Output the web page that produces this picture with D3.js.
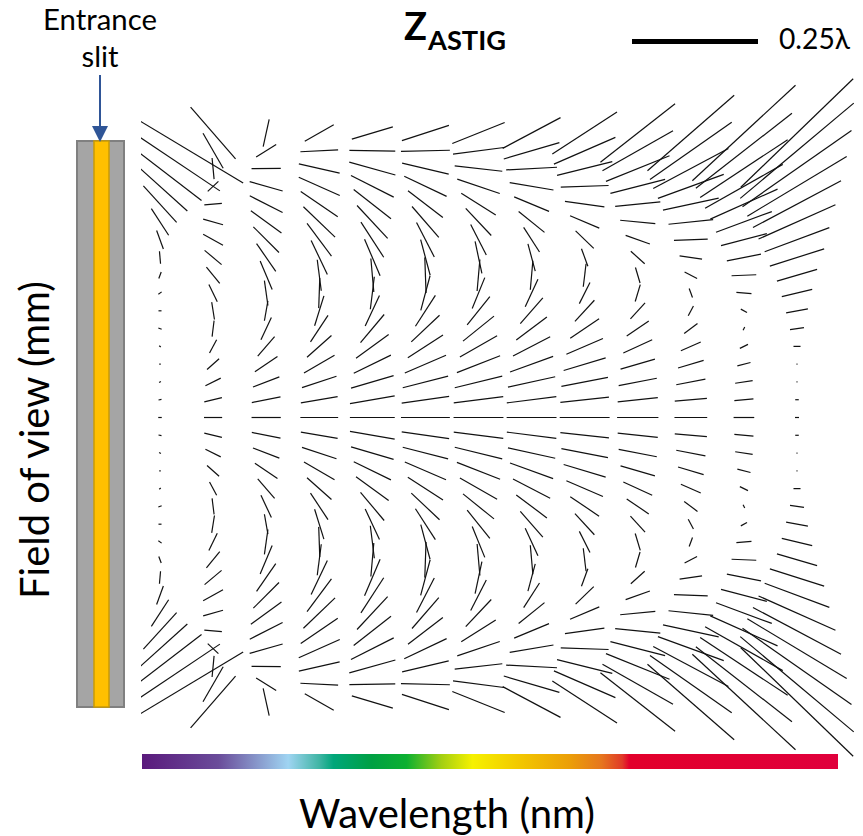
<!DOCTYPE html>
<html>
<head>
<meta charset="utf-8">
<script src="https://cdn.jsdelivr.net/npm/d3@7"></script>
<style>
  body { margin: 0; background: #fff; }
  svg { display: block; }
</style>
</head>
<body>
<div id="chart"></div>
<script>
'use strict';

// wavelength channels (columns, blue -> red)
var channels = d3.range(13);
// field positions of the stored rows: slit top (16) down to slit centre (0)
var fieldRows = d3.range(16, -1, -1);

// astigmatism magnitude in hundredths of a wave, one array per channel, top row first
var magnitude = [
  [38.5, 28.6, 20.8, 14.6, 9.8, 6.3, 3.9, 2.5, 1.4, 0.8, 0.6, 0.7, 0.4, 0.3, 0.4, 0.6, 0.7],
  [13.6, 8.0, 4.2, 2.9, 3.5, 4.1, 4.5, 4.4, 4.2, 3.8, 3.5, 3.2, 3.0, 3.2, 3.4, 3.6, 3.6],
  [5.5, 4.7, 5.8, 6.8, 7.3, 7.5, 7.2, 6.7, 6.1, 5.0, 4.0, 4.9, 5.1, 5.4, 5.6, 5.8, 5.8],
  [6.6, 7.5, 8.3, 8.9, 8.9, 8.7, 8.1, 7.5, 6.2, 6.0, 6.2, 6.3, 6.5, 7.0, 7.2, 7.4, 7.5],
  [8.5, 9.1, 9.5, 9.5, 9.4, 8.9, 8.3, 7.9, 6.7, 6.5, 6.7, 7.3, 8.0, 8.2, 8.8, 9.0, 8.9],
  [9.8, 9.7, 9.5, 9.3, 8.7, 8.1, 7.7, 7.3, 7.1, 7.1, 7.3, 7.7, 8.3, 8.9, 9.3, 9.5, 9.7],
  [11.2, 10.2, 9.5, 8.9, 8.1, 7.4, 6.8, 6.5, 6.3, 6.6, 7.2, 7.9, 8.5, 9.2, 9.7, 9.9, 9.9],
  [13.0, 11.5, 10.1, 8.8, 7.5, 6.6, 5.8, 5.6, 5.8, 6.0, 6.8, 7.6, 8.3, 9.1, 9.6, 9.9, 9.9],
  [15.3, 13.3, 11.3, 9.5, 7.9, 6.3, 5.0, 3.7, 4.6, 4.7, 5.7, 6.9, 7.9, 8.7, 9.4, 9.7, 9.9],
  [18.8, 16.1, 13.6, 11.2, 9.0, 7.0, 5.1, 3.7, 3.2, 3.5, 4.3, 5.3, 6.3, 7.1, 7.7, 8.0, 8.2],
  [22.8, 19.8, 16.9, 13.9, 11.3, 8.9, 6.7, 4.5, 2.8, 1.9, 2.2, 3.3, 4.3, 5.3, 5.9, 6.4, 6.5],
  [27.9, 24.2, 20.8, 17.7, 14.6, 11.8, 9.4, 6.9, 4.9, 3.0, 1.4, 0.7, 1.8, 2.7, 3.5, 3.8, 4.1],
  [31.0, 29.4, 26.4, 23.0, 19.8, 16.7, 13.7, 11.3, 8.3, 6.2, 4.4, 2.8, 1.4, 0.2, 0.2, 0.7, 0.8]
];

// orientation of each astigmatism line, degrees anticlockwise from the wavelength axis
var orientation = [
  [-31, -33.8, -37.6, -42, -47.7, -57, -70, -85, 70, 35, 0, -20, -40, 0, 30, 10, 0],
  [-49, -60, -84.6, 43, 5.5, -16, -29, -40, -51, -64, -81, 83, 62, 41.6, 26.6, 13.8, 0],
  [77.5, 32.3, 0.5, -15.8, -26.8, -36, -45, -55.4, -67, -82, 80, 65, 49, 34, 20.8, 11.2, 0],
  [29.4, 3, -12.8, -24, -34.4, -43.8, -53.3, -64.6, -82.6, 88, 72.7, 56.5, 41.7, 30, 18.3, 9.8, 0],
  [16.8, -1, -15.5, -26.8, -38, -47, -57, -67, -85, 83, 65, 50, 36, 26, 16.4, 9.7, 0],
  [18, 1.2, -13.3, -25.3, -37.3, -49, -62.8, -75, -88, 75, 57.2, 43.3, 32.7, 23.3, 14.4, 8, 0],
  [21.9, 7.4, -6.4, -18.7, -32.3, -46.8, -62.9, -78, 85, 67.8, 51.3, 38.9, 29.7, 21.4, 13.8, 7.3, 0],
  [28, 16.4, 3, -9.5, -22.7, -38.9, -57.2, -75, 85, 65.1, 48.9, 36.9, 27.4, 20, 12.3, 7.3, 0],
  [33, 23.5, 14, 2, -8, -23, -44, -70, 83, 63.4, 47.4, 34, 23.3, 16.7, 10.9, 6.3, 0],
  [38, 29.6, 22, 14.4, 5.9, -5.4, -19.6, -42, -73.4, 73.3, 47.5, 34.3, 24.4, 16.2, 10.9, 6.2, 0],
  [41, 35, 28, 20, 12, 6, 2.2, -8.5, -27.8, -69.7, 62, 36.9, 23.4, 16.6, 11, 4.7, 0],
  [42.8, 38, 33.4, 29.5, 24, 20.3, 14.7, 11.1, 2.3, -5, -29, 63, 26.6, 14.4, 8.7, 5, 0],
  [44, 40, 35, 31, 28, 24, 20.5, 17.6, 16.3, 13.4, 10.5, 8.1, 0, 0, 0, 0, 0]
];

// reference line of the legend, hundredths of a wave
var legendValue = 25;
var legendLabel = '0.25\u03bb';

// colour stops of the wavelength bar
var spectrumStops = [
  [0.00, '#5a1a7c'], [0.11, '#6a4c9a'], [0.21, '#9fd4f2'], [0.255, '#3fb5a4'],
  [0.275, '#00a67a'], [0.33, '#00a043'], [0.38, '#0cb031'], [0.43, '#a3cf12'],
  [0.475, '#f6f100'], [0.545, '#f2c600'], [0.615, '#eb9e08'], [0.66, '#e6761e'],
  [0.69, '#e03a28'], [0.70, '#e2002b'], [1.00, '#e0003c']
];

var W = 863, H = 836;
var font = 'Lato, "Open Sans", sans-serif';

var svg = d3.select('#chart').append('svg')
    .attr('width', W)
    .attr('height', H);

var x = d3.scaleLinear().domain([0, 12]).range([160, 797]);
var y = d3.scaleLinear().domain([16, -16]).range([133, 702]);
var len = d3.scaleLinear().domain([0, legendValue]).range([0, 126]);

// the field is symmetric about the slit centre: lower half mirrors the upper half
var segments = [];
channels.forEach(function (c) {
  fieldRows.forEach(function (f, i) {
    segments.push({ c: c, f: f, m: magnitude[c][i], a: orientation[c][i] });
    if (f > 0) segments.push({ c: c, f: -f, m: magnitude[c][i], a: -orientation[c][i] });
  });
});

svg.append('clipPath').attr('id', 'plotclip')
  .append('rect').attr('x', 141).attr('y', 0).attr('width', W - 141).attr('height', H);

function endpoint(d, s) {
  var r = len(d.m) / 2, t = d.a * Math.PI / 180;
  return [x(d.c) + s * r * Math.cos(t), y(d.f) - s * r * Math.sin(t)];
}

svg.append('g')
    .attr('clip-path', 'url(#plotclip)')
  .selectAll('line')
    .data(segments)
  .enter().append('line')
    .attr('x1', function (d) { return endpoint(d, -1)[0]; })
    .attr('y1', function (d) { return endpoint(d, -1)[1]; })
    .attr('x2', function (d) { return endpoint(d, 1)[0]; })
    .attr('y2', function (d) { return endpoint(d, 1)[1]; })
    .attr('stroke', '#111')
    .attr('stroke-width', 1.2);

// fit a text element to a measured width
function fit(sel, width) {
  var w = sel.node().getComputedTextLength();
  sel.attr('font-size', parseFloat(sel.attr('font-size')) * width / w);
  return sel;
}

// slit
svg.append('rect')
    .attr('x', 77).attr('y', 141).attr('width', 47).attr('height', 566)
    .attr('fill', '#a5a5a5').attr('stroke', '#808080').attr('stroke-width', 2);
svg.append('rect')
    .attr('x', 94).attr('y', 141).attr('width', 15).attr('height', 566)
    .attr('fill', '#ffc000').attr('stroke', '#c99a06').attr('stroke-width', 1.5);

// arrow to the slit
svg.append('line')
    .attr('x1', 100).attr('y1', 75).attr('x2', 100).attr('y2', 128)
    .attr('stroke', '#2f5597').attr('stroke-width', 2);
svg.append('path')
    .attr('d', 'M92,126L108,126L100,142Z')
    .attr('fill', '#2f5597');

fit(svg.append('text')
    .attr('x', 100).attr('y', 30)
    .attr('text-anchor', 'middle')
    .attr('font-family', font).attr('font-size', 24)
    .text('Entrance'), 114);
fit(svg.append('text')
    .attr('x', 100).attr('y', 67)
    .attr('text-anchor', 'middle')
    .attr('font-family', font).attr('font-size', 24)
    .text('slit'), 37);

// title
fit(svg.append('text')
    .attr('x', 404).attr('y', 40)
    .attr('font-family', font).attr('font-weight', 'bold')
    .attr('font-size', 36)
    .text('Z'), 23);
fit(svg.append('text')
    .attr('x', 428).attr('y', 50)
    .attr('font-family', font).attr('font-weight', 'bold')
    .attr('font-size', 23)
    .text('ASTIG'), 78);

// scale legend
svg.append('line')
    .attr('x1', 632).attr('x2', 632 + len(legendValue))
    .attr('y1', 41.5).attr('y2', 41.5)
    .attr('stroke', '#000').attr('stroke-width', 5);
fit(svg.append('text')
    .attr('x', 779).attr('y', 49)
    .attr('font-family', font).attr('font-size', 22)
    .text(legendLabel), 71);

// wavelength colour bar
var grad = svg.append('defs').append('linearGradient')
    .attr('id', 'spectrum');
grad.selectAll('stop')
    .data(spectrumStops)
  .enter().append('stop')
    .attr('offset', function (d) { return d[0]; })
    .attr('stop-color', function (d) { return d[1]; });
svg.append('rect')
    .attr('x', 142).attr('y', 754).attr('width', 696).attr('height', 15)
    .attr('fill', 'url(#spectrum)');

// axis titles
fit(svg.append('text')
    .attr('x', 447).attr('y', 828)
    .attr('text-anchor', 'middle')
    .attr('font-family', font).attr('font-size', 38)
    .text('Wavelength (nm)'), 296);
fit(svg.append('text')
    .attr('transform', 'translate(49,440) rotate(-90)')
    .attr('text-anchor', 'middle')
    .attr('font-family', font).attr('font-size', 38)
    .text('Field of view (mm)'), 318);
</script>
</body>
</html>
